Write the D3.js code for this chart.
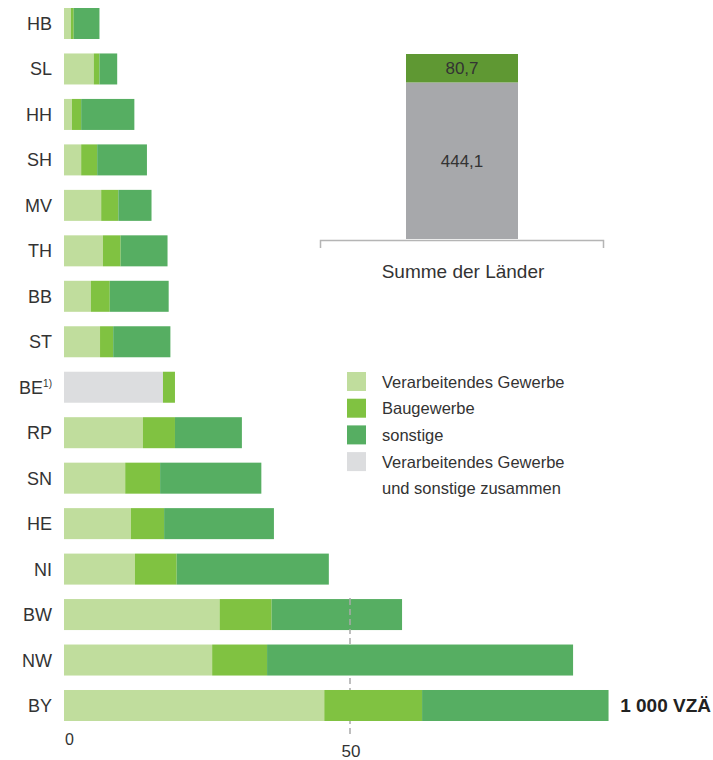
<!DOCTYPE html>
<html>
<head>
<meta charset="utf-8">
<script src="https://cdn.jsdelivr.net/npm/d3@7"></script>
<style>
  body { margin: 0; background: #fff; }
  svg { display: block; font-family: "Liberation Sans", Arial, sans-serif; }
</style>
</head>
<body>
<div id="chart"></div>
<script>
// Länder, von oben nach unten
const laender = ["HB", "SL", "HH", "SH", "MV", "TH", "BB", "ST", "BE", "RP", "SN", "HE", "NI", "BW", "NW", "BY"];
// 1 000 VZÄ
const verarbeitend = [1.2, 5.2, 1.4, 3.0, 6.5, 6.8, 4.7, 6.3, 0, 13.8, 10.7, 11.7, 12.4, 27.2, 25.9, 45.5];
const baugewerbe = [0.5, 1.0, 1.6, 2.8, 3.0, 3.1, 3.3, 2.3, 2.1, 5.6, 6.1, 5.8, 7.3, 9.1, 9.6, 17.1];
const sonstige = [4.5, 3.1, 9.3, 8.7, 5.8, 8.2, 10.3, 10.0, 0, 11.7, 17.7, 19.2, 26.6, 22.8, 53.5, 32.6];
const zusammen = [0, 0, 0, 0, 0, 0, 0, 0, 17.3, 0, 0, 0, 0, 0, 0, 0];

const summeLabels = ["Übrige", "Baugewerbe"];
const summeWerte = [444.1, 80.7];
const xTicks = [0, 50];

const legendLabels = ["Verarbeitendes Gewerbe", "Baugewerbe", "sonstige", "Verarbeitendes Gewerbe"];

const colors = {
    zusammen: "#dcdddf",
    verarbeitend: "#c0dd9d",
    baugewerbe: "#80c241",
    sonstige: "#56ae62"
};

const width = 713, height = 760;
const svg = d3.select("#chart").append("svg")
    .attr("width", width)
    .attr("height", height);

const table = laender.map((l, i) => ({
    land: l,
    zusammen: zusammen[i],
    verarbeitend: verarbeitend[i],
    baugewerbe: baugewerbe[i],
    sonstige: sonstige[i]
}));

const keys = ["zusammen", "verarbeitend", "baugewerbe", "sonstige"];
const series = d3.stack().keys(keys)(table);

const x = d3.scaleLinear().domain([0, 50]).range([64, 350]);
const y = d3.scaleBand().domain(laender).range([8, 721]).paddingInner(0.318).paddingOuter(0);

// dashed reference line at 50
svg.append("line")
    .attr("x1", x(50)).attr("x2", x(50))
    .attr("y1", 598).attr("y2", 736)
    .attr("stroke", "#a9a9a9")
    .attr("stroke-width", 1.5)
    .attr("stroke-dasharray", "6,4");

// bars
svg.append("g")
    .selectAll("g")
    .data(series)
    .join("g")
    .attr("fill", d => colors[d.key])
    .selectAll("rect")
    .data(d => d)
    .join("rect")
    .attr("x", d => x(d[0]))
    .attr("y", d => y(d.data.land))
    .attr("width", d => x(d[1]) - x(d[0]))
    .attr("height", y.bandwidth());

// dashed line stays visible on top of the BW bar
svg.append("line")
    .attr("x1", x(50)).attr("x2", x(50))
    .attr("y1", y("BW")).attr("y2", y("BW") + y.bandwidth())
    .attr("stroke", "#a9a9a9")
    .attr("stroke-width", 1.5)
    .attr("stroke-dasharray", "6,4");

// country labels
const lab = svg.append("g")
    .selectAll("text")
    .data(laender)
    .join("text")
    .attr("x", 52)
    .attr("y", d => y(d) + y.bandwidth() / 2 + 6.5)
    .attr("text-anchor", "end")
    .attr("font-size", 18)
    .attr("fill", "#333")
    .text(d => d);
lab.filter(d => d === "BE")
    .append("tspan")
    .attr("font-size", 10)
    .attr("dy", -7)
    .text("1)");

// axis labels
svg.append("text")
    .attr("x", x(xTicks[0]) + 1)
    .attr("y", 745)
    .attr("font-size", 16)
    .attr("fill", "#333")
    .text(xTicks[0]);
svg.append("text")
    .attr("x", x(xTicks[1]) + 1)
    .attr("y", 757)
    .attr("text-anchor", "middle")
    .attr("font-size", 17)
    .attr("fill", "#333")
    .text(xTicks[1]);

// unit
svg.append("text")
    .attr("x", 711)
    .attr("y", y("BY") + y.bandwidth() / 2 + 7)
    .attr("text-anchor", "end")
    .attr("font-size", 19)
    .attr("font-weight", "bold")
    .attr("fill", "#222")
    .text("1 000 VZÄ");

// Summe der Länder
const ySum = d3.scaleLinear()
    .domain([0, d3.sum(summeWerte)])
    .range([239, 54]);
const sumColors = ["#a7a8ab", "#5f9833"];
let acc = 0;
const sumStack = summeWerte.map((v, i) => {
    const s = { lo: acc, hi: acc + v, v: v, color: sumColors[i] };
    acc += v;
    return s;
});
const sumG = svg.append("g");
sumG.selectAll("rect")
    .data(sumStack)
    .join("rect")
    .attr("x", 406)
    .attr("width", 112)
    .attr("y", d => ySum(d.hi))
    .attr("height", d => ySum(d.lo) - ySum(d.hi))
    .attr("fill", d => d.color);
sumG.selectAll("text")
    .data(sumStack)
    .join("text")
    .attr("x", 462)
    .attr("y", d => (ySum(d.hi) + ySum(d.lo)) / 2 + 6)
    .attr("text-anchor", "middle")
    .attr("font-size", 17)
    .attr("fill", "#333")
    .text(d => d3.format(".1f")(d.v).replace(".", ","));

// bracket
svg.append("path")
    .attr("d", "M320.5,248 V240.5 H603.5 V248")
    .attr("fill", "none")
    .attr("stroke", "#b5b5b5")
    .attr("stroke-width", 1.5);
svg.append("text")
    .attr("x", 463)
    .attr("y", 278)
    .attr("text-anchor", "middle")
    .attr("font-size", 19)
    .attr("fill", "#333")
    .text("Summe der Länder");

// legend
const legendColors = [colors.verarbeitend, colors.baugewerbe, colors.sonstige, colors.zusammen];
const leg = svg.append("g").attr("transform", "translate(347,372)");
leg.selectAll("rect")
    .data(legendColors)
    .join("rect")
    .attr("x", 0)
    .attr("y", (d, i) => i * 26.7)
    .attr("width", 19)
    .attr("height", 19)
    .attr("fill", d => d);
leg.selectAll("text")
    .data(legendLabels)
    .join("text")
    .attr("x", 35)
    .attr("y", (d, i) => i * 26.7 + 15.5)
    .attr("font-size", 16.5)
    .attr("fill", "#333")
    .text(d => d);
leg.append("text")
    .attr("x", 35)
    .attr("y", 4 * 26.7 + 15.5)
    .attr("font-size", 16.5)
    .attr("fill", "#333")
    .text("und sonstige zusammen");
</script>
</body>
</html>
